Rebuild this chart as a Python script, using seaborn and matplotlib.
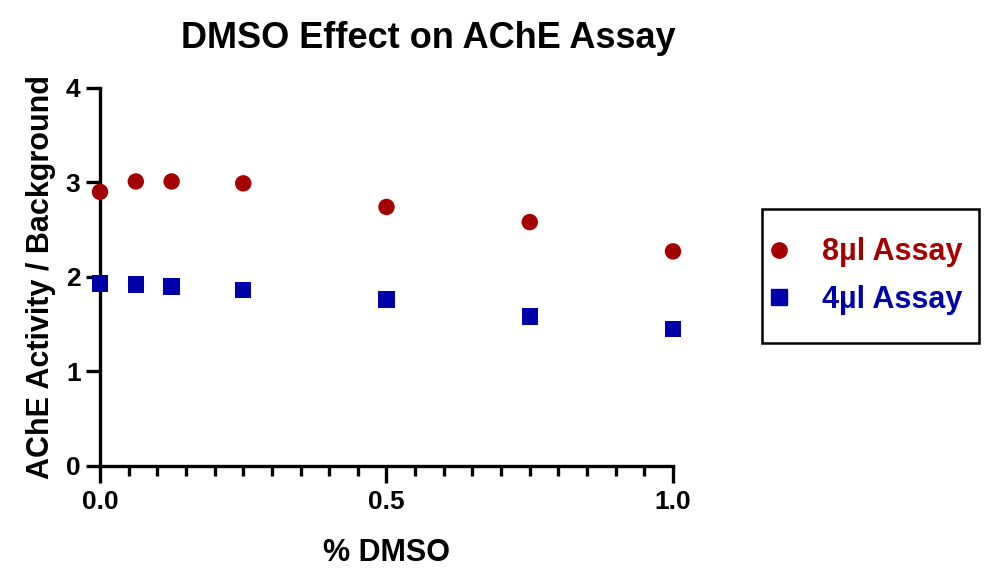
import pandas as pd
import matplotlib.pyplot as plt
import seaborn as sns
from matplotlib.patches import Rectangle
from matplotlib.ticker import FixedLocator, MultipleLocator

# -------------------------------------------------------
# Data
# -------------------------------------------------------

dmso = [0.0, 0.0625, 0.125, 0.25, 0.5, 0.75, 1.0]
assay_8ul = [2.90, 3.01, 3.01, 2.99, 2.74, 2.58, 2.27]
assay_4ul = [1.93, 1.92, 1.90, 1.86, 1.76, 1.58, 1.45]
series = ["8µl Assay", "4µl Assay"]
x_ticks = [0.0, 0.5, 1.0]
x_ticklabels = ["0.0", "0.5", "1.0"]
y_ticks = [0, 1, 2, 3, 4]
colors = {"8µl Assay": "#A50000", "4µl Assay": "#0000AA"}
markers = {"8µl Assay": "o", "4µl Assay": "s"}

df = pd.DataFrame({
    "DMSO": dmso * 2,
    "Ratio": assay_8ul + assay_4ul,
    "Series": [series[0]] * len(dmso) + [series[1]] * len(dmso),
})

# -------------------------------------------------------
# Style
# -------------------------------------------------------

sns.set_theme(style="ticks")
plt.rcParams["font.family"] = ["Liberation Sans", "DejaVu Sans"]
plt.rcParams["font.weight"] = "bold"
plt.rcParams["text.color"] = "black"
plt.rcParams["axes.labelcolor"] = "black"
plt.rcParams["xtick.color"] = "black"
plt.rcParams["ytick.color"] = "black"

fig = plt.figure(figsize=(10, 5.86), dpi=100)
ax = fig.add_axes([0.100, 0.205, 0.573, 0.645])

sns.scatterplot(
    data=df,
    x="DMSO",
    y="Ratio",
    hue="Series",
    style="Series",
    palette=colors,
    markers=markers,
    s=140,
    linewidth=0,
    clip_on=False,
    zorder=3,
    ax=ax,
)

ax.set_xlim(0, 1)
ax.set_ylim(0, 4)
ax.xaxis.set_major_locator(FixedLocator(x_ticks))
ax.xaxis.set_minor_locator(MultipleLocator(0.05))
ax.yaxis.set_major_locator(FixedLocator(y_ticks))
ax.set_xticklabels(x_ticklabels)

for side in ["top", "right"]:
    ax.spines[side].set_visible(False)
for side in ["left", "bottom"]:
    ax.spines[side].set_linewidth(2.4)
    ax.spines[side].set_color("black")

ax.tick_params(axis="y", which="major", width=2.4, length=10,
               labelsize=19, pad=4)
ax.tick_params(axis="x", which="major", width=2.4, length=12.5,
               labelsize=19, pad=5)
ax.tick_params(axis="x", which="minor", width=2.4, length=7)
for lbl in ax.get_xticklabels() + ax.get_yticklabels():
    lbl.set_fontweight("bold")

ax.set_xlabel("% DMSO", fontsize=22, fontweight="bold", labelpad=17)
ax.set_ylabel("AChE Activity / Background", fontsize=22, fontweight="bold", labelpad=7)
fig.text(0.428, 0.935, "DMSO Effect on AChE Assay", ha="center", va="center",
         fontsize=26, fontweight="bold")

# -------------------------------------------------------
# Legend (frame drawn separately so the box matches)
# -------------------------------------------------------

ax.legend_.remove()
fig.patches.append(Rectangle(
    (0.762, 0.415), 0.217, 0.228,
    transform=fig.transFigure,
    facecolor="white", edgecolor="black", linewidth=1.8,
))
handles = [
    plt.Line2D([], [], marker=markers[k], color=colors[k], linestyle="",
               markersize=11) for k in series
]
leg = fig.legend(
    handles, series,
    loc="center left",
    bbox_to_anchor=(0.762, 0.529),
    frameon=False,
    prop={"size": 22, "weight": "bold"},
    labelcolor=[colors[k] for k in series],
    borderpad=0.25,
    handlelength=0.6,
    handletextpad=1.11,
    labelspacing=0.57,
    borderaxespad=0,
)

plt.savefig("out.png", dpi=100)
plt.close()
